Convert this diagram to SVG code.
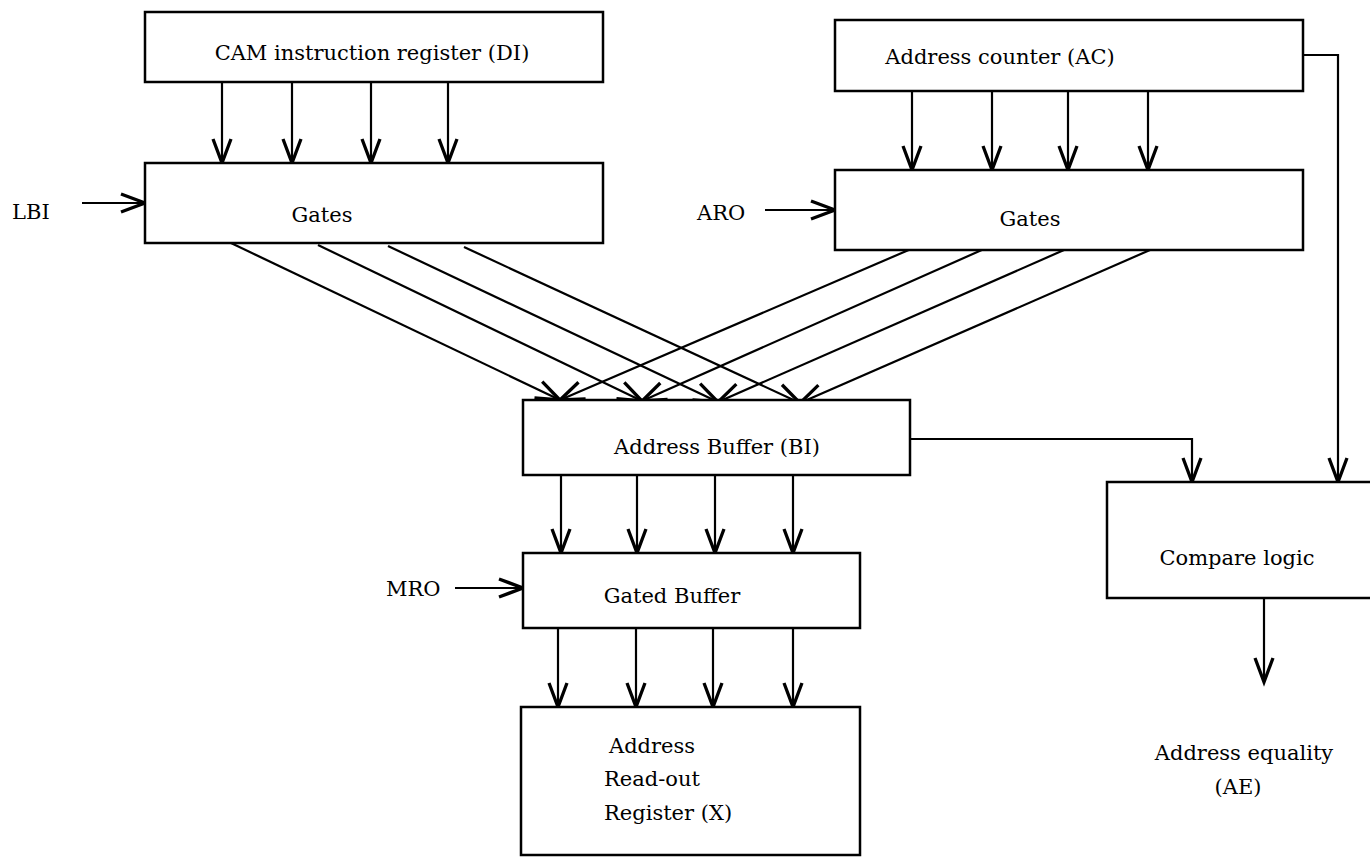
<svg xmlns="http://www.w3.org/2000/svg" width="1370" height="861" viewBox="0 0 1370 861">
<defs>
<marker id="arr" markerUnits="userSpaceOnUse" markerWidth="30" markerHeight="30" refX="0" refY="0" viewBox="-16 -10 20 20" orient="auto" overflow="visible">
<path d="M-16,-6 L0,0 L-16,6" fill="none" stroke="#000" stroke-width="2.2"/>
</marker>
</defs>
<style>
.box{fill:#fff;stroke:#000;stroke-width:2.5}
.t{font-family:"DejaVu Serif","Liberation Serif",serif;font-size:21px;fill:#000}
.c{text-anchor:middle}
.ln{fill:none;stroke:#000;stroke-width:2.2;marker-end:url(#arr)}
</style>
<rect width="1370" height="861" fill="#fff"/>
<g id="connectors">
<path class="ln" d="M222,82 V163"/>
<path class="ln" d="M292,82 V163"/>
<path class="ln" d="M371,82 V163"/>
<path class="ln" d="M448,82 V163"/>
<path class="ln" d="M912,91 V170"/>
<path class="ln" d="M992,91 V170"/>
<path class="ln" d="M1068,91 V170"/>
<path class="ln" d="M1148,91 V170"/>
<path class="ln" d="M82,203 H145"/>
<path class="ln" d="M765,210 H835"/>
<path class="ln" d="M231,243 L560,400"/>
<path class="ln" d="M318,245 L642,401"/>
<path class="ln" d="M388,246 L718,402"/>
<path class="ln" d="M464,247 L800,403"/>
<path class="ln" d="M911,249 L560,400" stroke-width="2.8"/>
<path class="ln" d="M984,249 L642,401"/>
<path class="ln" d="M1064,250 L718,402"/>
<path class="ln" d="M1150,250 L800,403"/>
<path class="ln" d="M561,475 V553"/>
<path class="ln" d="M637,475 V553"/>
<path class="ln" d="M715,475 V553"/>
<path class="ln" d="M793,475 V553"/>
<path class="ln" d="M455,588 H523"/>
<path class="ln" d="M558,628 V707"/>
<path class="ln" d="M636,628 V707"/>
<path class="ln" d="M713,628 V707"/>
<path class="ln" d="M793,628 V707"/>
<path class="ln" d="M1303,55 H1338 V482"/>
<path class="ln" d="M910,439 H1192 V482"/>
<path class="ln" d="M1264,598 V682"/>
</g>
<g id="di">
<rect class="box" x="145" y="12" width="458" height="70"/>
<text class="t c" x="372" y="60">CAM instruction register (DI)</text>
</g>
<g id="gates-left">
<rect class="box" x="145" y="163" width="458" height="80"/>
<text class="t c" x="322" y="222">Gates</text>
</g>
<g id="lbi"><text class="t" x="12" y="219">LBI</text></g>
<g id="ac">
<rect class="box" x="835" y="20" width="468" height="71"/>
<text class="t c" x="1000" y="64">Address counter (AC)</text>
</g>
<g id="gates-right">
<rect class="box" x="835" y="170" width="468" height="80"/>
<text class="t c" x="1030" y="226">Gates</text>
</g>
<g id="aro"><text class="t" x="697" y="220">ARO</text></g>
<g id="bi">
<rect class="box" x="523" y="400" width="387" height="75"/>
<text class="t c" x="717" y="454">Address Buffer (BI)</text>
</g>
<g id="gated">
<rect class="box" x="523" y="553" width="337" height="75"/>
<text class="t c" x="672" y="603">Gated Buffer</text>
</g>
<g id="mro"><text class="t" x="386" y="596">MRO</text></g>
<g id="x">
<rect class="box" x="521" y="707" width="339" height="148"/>
<text class="t" x="609" y="753">Address</text>
<text class="t" x="604" y="786">Read-out</text>
<text class="t" x="604" y="820">Register (X)</text>
</g>
<g id="compare">
<rect class="box" x="1107" y="482" width="280" height="116"/>
<text class="t c" x="1237" y="565">Compare logic</text>
</g>
<g id="ae">
<text class="t c" x="1244" y="760">Address equality</text>
<text class="t c" x="1238" y="794">(AE)</text>
</g>
</svg>
